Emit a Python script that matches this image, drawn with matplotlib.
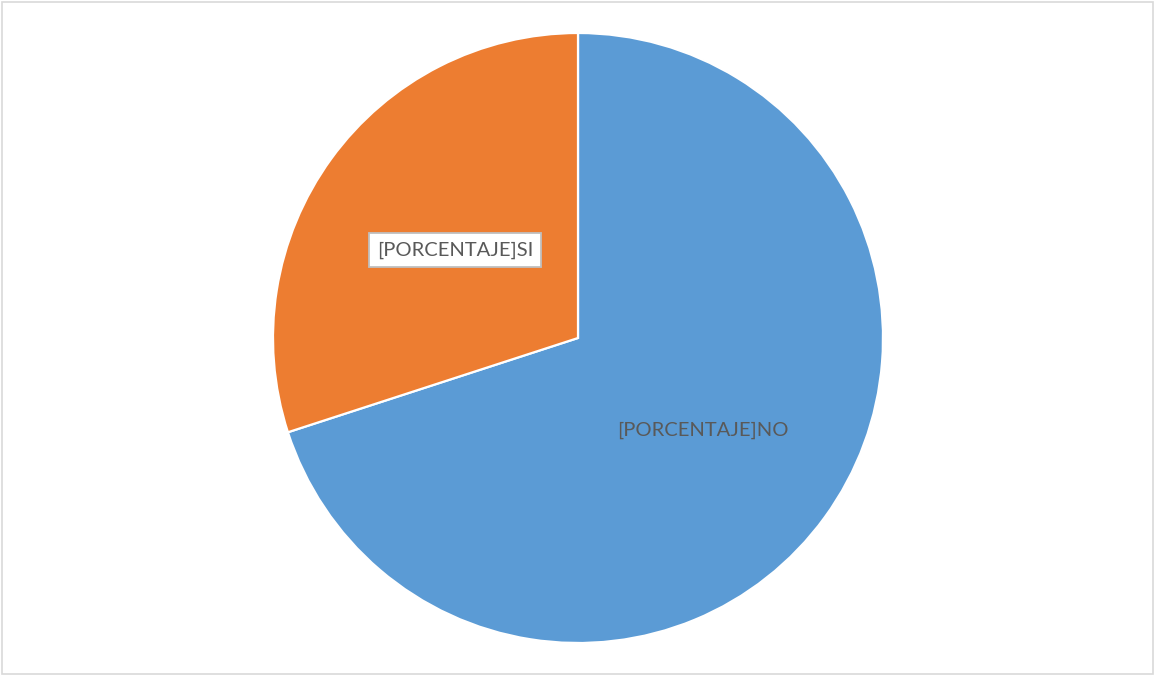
import matplotlib
matplotlib.use("Agg")
import matplotlib.pyplot as plt
from matplotlib.patches import Rectangle

# Data
categories = ["NO", "SI"]
values = [70, 30]
label_texts = ["[PORCENTAJE]NO", "[PORCENTAJE]SI"]
colors = ["#5B9BD5", "#ED7D31"]

plt.rcParams["font.family"] = ["Lato", "DejaVu Sans"]

W, H = 1155, 675
fig = plt.figure(figsize=(W / 100, H / 100), dpi=100)
fig.patch.set_facecolor("white")

# outer chart border
fig.patches.append(Rectangle((1.5 / W, 1.5 / H), 1 - 3.5 / W, 1 - 3.5 / H,
                             transform=fig.transFigure, fill=False,
                             edgecolor="#D9D9D9", linewidth=1.2))

# pie area: centre (578, 338), radius 305 px
cx, cy, r = 578, 338, 305
ax = fig.add_axes([(cx - r) / W, (H - cy - r) / H, 2 * r / W, 2 * r / H])
ax.pie(values, colors=colors, startangle=90, counterclock=False,
       wedgeprops=dict(edgecolor="white", linewidth=1.6))
ax.set_xlim(-1, 1)
ax.set_ylim(-1, 1)
ax.set_aspect("equal")
ax.axis("off")

# data labels
ax.text(0.41, -0.302, label_texts[0], ha="center", va="center",
        fontsize=14.5, color="#595959")
ax.text(-0.403, 0.289, label_texts[1], ha="center", va="center",
        fontsize=14.5, color="#595959",
        bbox=dict(boxstyle="square,pad=0.4", facecolor="white",
                  edgecolor="#BFBFBF", linewidth=1.3))

fig.savefig("out.png", dpi=100)
